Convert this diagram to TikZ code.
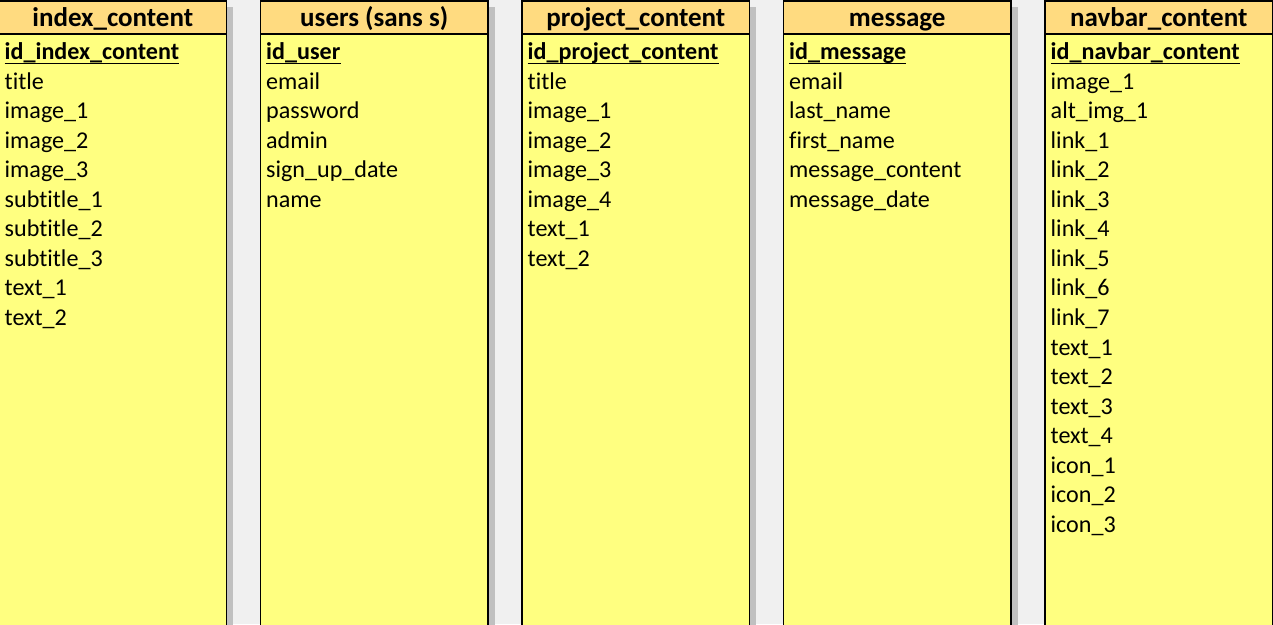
\documentclass[tikz,border=0pt]{standalone}
\usepackage{fontspec}
\setmainfont[Ligatures=NoCommon]{Carlito}

\definecolor{headfill}{RGB}{255,219,128}
\definecolor{bodyfill}{RGB}{255,255,128}
\definecolor{shadowgray}{RGB}{192,192,192}
\definecolor{canvas}{RGB}{240,240,240}

\tikzset{
  tablehead/.style={anchor=base, inner sep=0pt, font=\fontsize{27}{30}\selectfont\bfseries},
  field/.style={anchor=base west, inner sep=0pt, font=\fontsize{24.1}{28}\selectfont},
  keyfield/.style={field, font=\fontsize{24.1}{28}\selectfont\bfseries},
}

\begin{document}
\begin{tikzpicture}[x=1pt, y=-1pt]
        % Canvas
        \clip (0,0) rectangle (1273,624);
        \fill[canvas] (0,0) rectangle (1273,624);

        % Tables (shadow, body, header)
        \foreach \x in {-1,260.5,522,783.5,1045} {
          \fill[shadowgray] (\x+228.2,7) rectangle (\x+234,630);
          \filldraw[fill=bodyfill, line width=1.5pt] (\x,0.75) rectangle (\x+227.5,640);
          \filldraw[fill=headfill, line width=1.5pt] (\x,0.75) rectangle (\x+227.5,34);
        }

        % Headers
        \node[tablehead] (index) at (112.75,26) {index\_content};
        \node[tablehead] (users) at (374.25,26) {users (sans s)};
        \node[tablehead] (project) at (635.75,26) {project\_content};
        \node[tablehead] (message) at (897.25,26) {message};
        \node[tablehead] (navbar) at (1158.75,26) {navbar\_content};

        % Primary keys
        \node[keyfield] (index-key) at (4.5,59.5) {id\_index\_content};
        \node[keyfield] (users-key) at (266,59.5) {id\_user};
        \node[keyfield] (project-key) at (527.5,59.5) {id\_project\_content};
        \node[keyfield] (message-key) at (789,59.5) {id\_message};
        \node[keyfield] (navbar-key) at (1050.5,59.5) {id\_navbar\_content};
        \foreach \t in {index,users,project,message,navbar}
          \draw[line width=1.75pt] ([yshift=-4pt]\t-key.base west) -- ([yshift=-4pt]\t-key.base east);

        % Fields
        \foreach \f [count=\i] in {title,image\_1,image\_2,image\_3,subtitle\_1,subtitle\_2,subtitle\_3,text\_1,text\_2}
          \node[field] (index-\i) at (4.5,59.5+29.55*\i) {\f};
        \foreach \f [count=\i] in {email,password,admin,sign\_up\_date,name}
          \node[field] (users-\i) at (266,59.5+29.55*\i) {\f};
        \foreach \f [count=\i] in {title,image\_1,image\_2,image\_3,image\_4,text\_1,text\_2}
          \node[field] (project-\i) at (527.5,59.5+29.55*\i) {\f};
        \foreach \f [count=\i] in {email,last\_name,first\_name,message\_content,message\_date}
          \node[field] (message-\i) at (789,59.5+29.55*\i) {\f};
        \foreach \f [count=\i] in {image\_1,alt\_img\_1,link\_1,link\_2,link\_3,link\_4,link\_5,link\_6,link\_7,text\_1,text\_2,text\_3,text\_4,icon\_1,icon\_2,icon\_3}
          \node[field] (navbar-\i) at (1050.5,59.5+29.55*\i) {\f};
    \end{tikzpicture}
\end{document}
